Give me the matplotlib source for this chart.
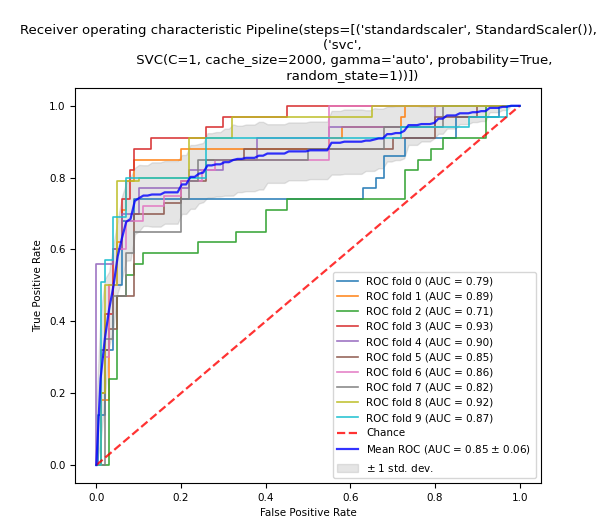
import numpy as np
import matplotlib
matplotlib.use("Agg")
import matplotlib.pyplot as plt

# (fpr at jump, tpr after jump) corner points per fold
folds_fpr = [
    [0, 0.005, 0.02, 0.04, 0.06, 0.09, 0.63, 0.66, 0.68, 0.73, 0.85, 0.95, 1.0],
    [0, 0.01, 0.03, 0.05, 0.06, 0.07, 0.09, 0.2, 0.55, 0.58, 0.72, 0.73, 1.0],
    [0, 0.03, 0.05, 0.07, 0.09, 0.11, 0.24, 0.33, 0.4, 0.45, 0.73, 0.76, 0.79, 0.82, 0.92, 1.0],
    [0, 0.01, 0.02, 0.04, 0.06, 0.08, 0.09, 0.13, 0.26, 0.3, 0.45, 1.0],
    [0, 0.0, 0.04, 0.06, 0.1, 0.1, 0.22, 0.3, 0.38, 0.55, 0.8, 1.0],
    [0, 0.01, 0.03, 0.05, 0.09, 0.16, 0.2, 0.26, 0.35, 0.7, 0.8, 0.9, 1.0],
    [0, 0.01, 0.03, 0.05, 0.07, 0.11, 0.16, 0.2, 0.25, 0.28, 0.55, 1.0],
    [0, 0.02, 0.04, 0.07, 0.09, 0.2, 0.22, 0.24, 0.5, 0.68, 0.82, 1.0],
    [0, 0.01, 0.02, 0.05, 0.1, 0.22, 0.32, 0.65, 1.0],
    [0, 0.01, 0.02, 0.04, 0.07, 0.26, 0.72, 0.88, 0.97, 1.0],
]
folds_tpr = [
    [0, 0.14, 0.32, 0.5, 0.68, 0.74, 0.77, 0.8, 0.86, 0.91, 0.97, 1.0, 1.0],
    [0, 0.18, 0.5, 0.62, 0.71, 0.79, 0.85, 0.88, 0.91, 0.94, 0.97, 1.0, 1.0],
    [0, 0.24, 0.47, 0.53, 0.56, 0.59, 0.62, 0.65, 0.71, 0.74, 0.82, 0.85, 0.88, 0.91, 1.0, 1.0],
    [0, 0.2, 0.42, 0.6, 0.74, 0.82, 0.88, 0.91, 0.94, 0.97, 1.0, 1.0],
    [0, 0.56, 0.6, 0.7, 0.73, 0.77, 0.82, 0.85, 0.91, 0.94, 1.0, 1.0],
    [0, 0.32, 0.38, 0.47, 0.7, 0.73, 0.79, 0.85, 0.88, 0.91, 0.97, 1.0, 1.0],
    [0, 0.3, 0.5, 0.6, 0.68, 0.72, 0.75, 0.79, 0.82, 0.85, 1.0, 1.0],
    [0, 0.35, 0.47, 0.59, 0.65, 0.74, 0.79, 0.85, 0.88, 0.94, 1.0, 1.0],
    [0, 0.2, 0.5, 0.79, 0.8, 0.91, 0.97, 1.0, 1.0],
    [0, 0.51, 0.57, 0.69, 0.8, 0.91, 0.94, 0.97, 1.0, 1.0],
]
fold_auc = [0.79, 0.89, 0.71, 0.93, 0.90, 0.85, 0.86, 0.82, 0.92, 0.87]
mean_auc, std_auc = 0.85, 0.06

fig = plt.figure(figsize=(6.16, 5.32), dpi=100)
ax = fig.add_axes([0.122, 0.092, 0.756, 0.743])

mean_fpr = np.linspace(0, 1, 100)
tprs = []
for i, (f, t) in enumerate(zip(folds_fpr, folds_tpr)):
    ax.step(f, t, where="post", lw=1.2, alpha=0.9,
            label=f"ROC fold {i} (AUC = {fold_auc[i]:.2f})")
    f = np.array(f)
    t = np.array(t)
    idx = np.searchsorted(f, mean_fpr, side="right") - 1
    tprs.append(t[idx])

ax.plot([0, 1], [0, 1], linestyle="--", lw=1.6, color="r", label="Chance", alpha=0.8)

tprs = np.array(tprs)
mean_tpr = tprs.mean(axis=0)
mean_tpr[0] = 0.0
mean_tpr[-1] = 1.0
std_tpr = tprs.std(axis=0)
ax.plot(mean_fpr, mean_tpr, color="b", lw=1.6, alpha=0.8,
        label=r"Mean ROC (AUC = %0.2f $\pm$ %0.2f)" % (mean_auc, std_auc))
ax.fill_between(mean_fpr, np.maximum(mean_tpr - std_tpr, 0), np.minimum(mean_tpr + std_tpr, 1),
                color="grey", alpha=0.2, label=r"$\pm$ 1 std. dev.")

ax.set_xlim(-0.05, 1.05)
ax.set_ylim(-0.05, 1.05)
ax.tick_params(labelsize=7.5)
ax.set_xlabel("False Positive Rate", fontsize=7.5)
ax.set_ylabel("True Positive Rate", fontsize=7.5)
ax.set_title("Receiver operating characteristic Pipeline(steps=[('standardscaler', StandardScaler()),\n"
             "                ('svc',\n"
             "                 SVC(C=1, cache_size=2000, gamma='auto', probability=True,\n"
             "                     random_state=1))])", fontsize=9.5)
ax.legend(loc="lower right", fontsize=7.5)
fig.savefig("out.png", dpi=100)
